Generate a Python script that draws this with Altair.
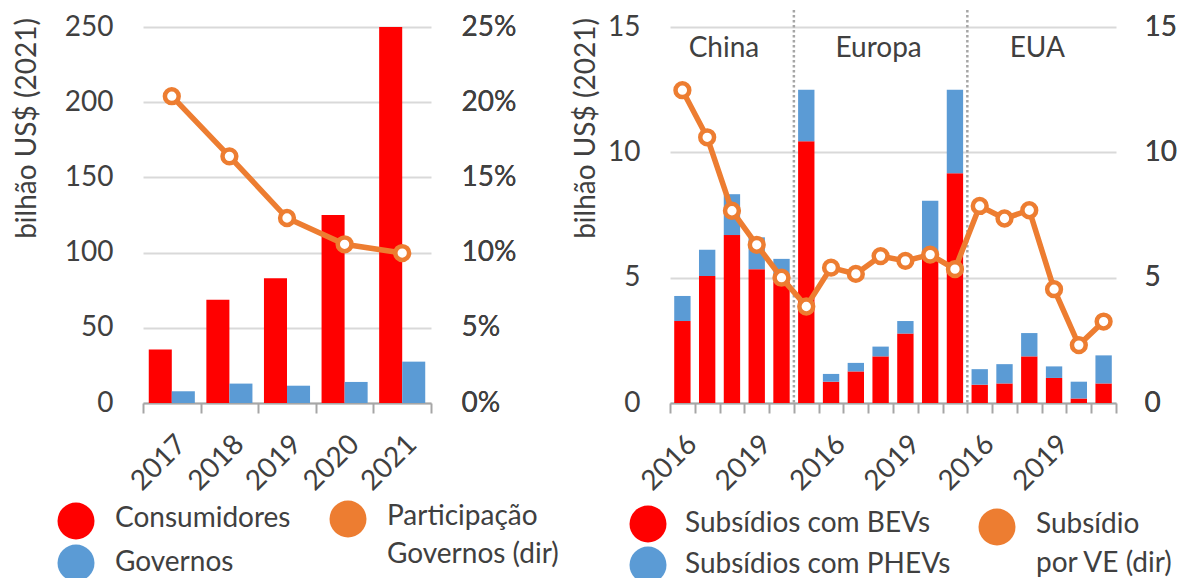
import altair as alt
import pandas as pd

FONT = "Lato"
TXT = "#404040"
RED = "#FF0000"
BLUE = "#5B9BD5"
ORANGE = "#ED7D31"
GRID = "#D9D9D9"
AXISC = "#A6A6A6"
FS = 28

# ---------------- data: left panel ----------------
anos_esq = ["2017", "2018", "2019", "2020", "2021"]
consumidores = [35.5, 68.7, 82.9, 125.0, 250.0]
governos = [7.8, 12.9, 11.5, 14.0, 27.5]
participacao = [0.204, 0.164, 0.123, 0.1055, 0.0997]

# ---------------- data: right panel ----------------
regioes = ["China", "Europa", "EUA"]
anos_dir = ["2016", "2017", "2018", "2019", "2020", "2021"]
bev = [3.27, 5.07, 6.70, 5.34, 4.85, 10.44,
       0.85, 1.26, 1.86, 2.77, 6.00, 9.17,
       0.73, 0.78, 1.86, 1.00, 0.18, 0.78]
phev = [1.00, 1.04, 1.63, 1.27, 0.90, 2.06,
        0.31, 0.34, 0.39, 0.50, 2.07, 3.33,
        0.62, 0.77, 0.93, 0.46, 0.67, 1.12]
subsidio_ve = [12.48, 10.60, 7.67, 6.31, 5.00, 3.85,
               5.40, 5.15, 5.86, 5.67, 5.92, 5.34,
               7.86, 7.36, 7.69, 4.54, 2.31, 3.25]
separadores = ["China|2021", "EUA|2016"]
rotulos_regiao = ["China", "Europa", "EUA"]
rotulos_cat = ["China|2018", "Europa|2018", "EUA|2018"]

# ---------------- tables ----------------
left_bars = pd.DataFrame(
    [{"ano": a, "serie": "Consumidores", "valor": v} for a, v in zip(anos_esq, consumidores)]
    + [{"ano": a, "serie": "Governos", "valor": v} for a, v in zip(anos_esq, governos)]
)
left_line = pd.DataFrame({"ano": anos_esq, "part": participacao})

cats = [f"{r}|{a}" for r in regioes for a in anos_dir]
right_bars = pd.DataFrame(
    [{"cat": c, "tipo": "BEV", "ord": 0, "valor": v} for c, v in zip(cats, bev)]
    + [{"cat": c, "tipo": "PHEV", "ord": 1, "valor": v} for c, v in zip(cats, phev)]
)
right_line = pd.DataFrame({"cat": cats, "sub": subsidio_ve})

W1, W2, H = 288, 446, 376


def leg_circle(color, x, y):
    return alt.Chart(pd.DataFrame({"k": [0]})).mark_circle(
        color=color, size=1369, opacity=1
    ).encode(x=alt.value(x), y=alt.value(y))


def leg_text(label, x, y):
    return alt.Chart(pd.DataFrame({"t": [label]})).mark_text(
        align="left", baseline="middle", font=FONT, fontSize=FS, color=TXT
    ).encode(x=alt.value(x), y=alt.value(y), text="t:N")


x_axis_common = dict(
    title=None, labelAngle=-45, labelAlign="right", labelBaseline="top",
    tickBand="extent", tickSize=10, tickColor=AXISC, tickWidth=2,
    domainColor=AXISC, domainWidth=2, labelPadding=17, grid=False,
)

# ---------------- left panel ----------------
xl = alt.X("ano:N", sort=anos_esq,
           scale=alt.Scale(paddingInner=0, paddingOuter=0),
           axis=alt.Axis(**x_axis_common))

bars_l = alt.Chart(left_bars).mark_bar().encode(
    x=xl,
    xOffset=alt.XOffset("serie:N", sort=["Consumidores", "Governos"],
                        scale=alt.Scale(paddingInner=0, paddingOuter=0.25)),
    y=alt.Y("valor:Q", scale=alt.Scale(domain=[0, 250]),
            axis=alt.Axis(values=[0, 50, 100, 150, 200, 250], title="bilhão US$ (2021)",
                          ticks=False, tickSize=0, domain=False, labelPadding=30,
                          grid=True, gridColor=GRID, gridWidth=2,
                          titleX=-116, titleY=101, titleBaseline="middle", titleAlign="center")),
    color=alt.Color("serie:N", scale=alt.Scale(domain=["Consumidores", "Governos"], range=[RED, BLUE]),
                    legend=None),
)

yl2 = alt.Y("part:Q", scale=alt.Scale(domain=[0, 0.25]),
            axis=alt.Axis(orient="right", values=[0, 0.05, 0.10, 0.15, 0.20, 0.25], format=".0%",
                          title=None, ticks=False, tickSize=0, domain=False, labelPadding=30, grid=False))
line_l = alt.Chart(left_line).mark_line(color=ORANGE, strokeWidth=5.5).encode(
    x=alt.X("ano:N", sort=anos_esq), y=yl2)
pts_l = alt.Chart(left_line).mark_point(
    shape="circle", filled=True, fill="white", stroke=ORANGE, strokeWidth=4.5, size=190, opacity=1
).encode(x=alt.X("ano:N", sort=anos_esq), y=yl2)

left = alt.layer(
    bars_l, line_l, pts_l,
    leg_circle(RED, -67, 494), leg_text("Consumidores", -28, 492),
    leg_circle(BLUE, -67, 536), leg_text("Governos", -28, 536),
    leg_circle(ORANGE, 205, 492), leg_text("Participação", 244, 490),
    leg_text("Governos (dir)", 244, 528),
).resolve_scale(y="independent").properties(width=W1, height=H)

# ---------------- right panel ----------------
label_expr = ("indexof(['2016','2019'], split(datum.value,'|')[1]) >= 0 ? "
              "split(datum.value,'|')[1] : ''")
xr = alt.X("cat:N", sort=cats, scale=alt.Scale(paddingInner=0, paddingOuter=0),
           axis=alt.Axis(labelExpr=label_expr, **x_axis_common))

bars_r = alt.Chart(right_bars).mark_bar(width=alt.RelativeBandSize(0.66)).encode(
    x=xr,
    y=alt.Y("valor:Q", stack="zero", scale=alt.Scale(domain=[0, 15]),
            axis=alt.Axis(values=[0, 5, 10, 15], title="bilhão US$ (2021)",
                          ticks=False, tickSize=0, domain=False, labelPadding=30,
                          grid=True, gridColor=GRID, gridWidth=2,
                          titleX=-84, titleY=101, titleBaseline="middle", titleAlign="center")),
    color=alt.Color("tipo:N", scale=alt.Scale(domain=["BEV", "PHEV"], range=[RED, BLUE]), legend=None),
    order=alt.Order("ord:Q"),
)

seps = alt.Chart(pd.DataFrame({"cat": separadores})).mark_rule(
    color=AXISC, strokeWidth=2.5, strokeDash=[2.5, 2.5]
).encode(x=alt.X("cat:N", sort=cats, bandPosition=0), y=alt.value(-17), y2=alt.value(H))

reg_dx = [-8, -2, 8]
reg_layers = []
for lab, c, dx in zip(rotulos_regiao, rotulos_cat, reg_dx):
    reg_layers.append(
        alt.Chart(pd.DataFrame({"cat": [c], "lab": [lab]})).mark_text(
            font=FONT, fontSize=FS, color=TXT, baseline="middle", align="center", dx=dx
        ).encode(x=alt.X("cat:N", sort=cats), y=alt.value(22), text="lab:N")
    )

yr2 = alt.Y("sub:Q", scale=alt.Scale(domain=[0, 15]),
            axis=alt.Axis(orient="right", values=[0, 5, 10, 15], title=None, ticks=False, tickSize=0,
                          domain=False, labelPadding=28, grid=False))
line_r = alt.Chart(right_line).mark_line(color=ORANGE, strokeWidth=5.5).encode(
    x=alt.X("cat:N", sort=cats), y=yr2)
pts_r = alt.Chart(right_line).mark_point(
    shape="circle", filled=True, fill="white", stroke=ORANGE, strokeWidth=4.5, size=190, opacity=1
).encode(x=alt.X("cat:N", sort=cats), y=yr2)

right = alt.layer(
    bars_r, seps, *reg_layers, line_r, pts_r,
    leg_circle(RED, -22, 497), leg_text("Subsídios com BEVs", 15, 497),
    leg_circle(BLUE, -22, 538), leg_text("Subsídios com PHEVs", 15, 538),
    leg_circle(ORANGE, 327, 500), leg_text("Subsídio", 366, 498),
    leg_text("por VE (dir)", 366, 537),
).resolve_scale(y="independent").properties(width=W2, height=H)

chart = alt.hconcat(left, right, spacing=239, bounds="flush").properties(
    padding={"left": 5, "top": 0, "right": 0, "bottom": 0}
).configure_axis(
    labelFont=FONT, titleFont=FONT, labelColor=TXT, titleColor=TXT,
    labelFontSize=FS, titleFontSize=FS, titleFontWeight="normal",
).configure_view(stroke=None)

chart.save("out.html", embed_options={"renderer": "svg", "actions": False})
